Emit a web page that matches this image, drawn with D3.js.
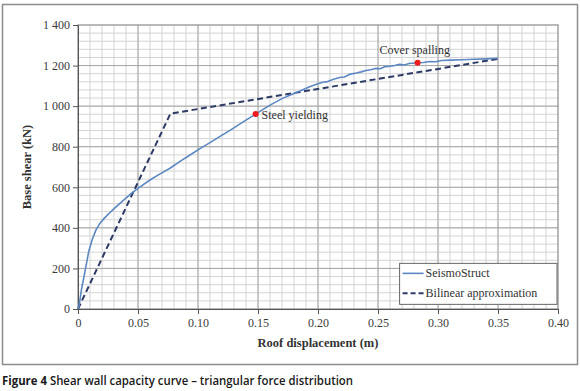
<!DOCTYPE html>
<html>
<head>
<meta charset="utf-8">
<script src="https://cdn.jsdelivr.net/npm/d3@7"></script>
<style>
  body { margin: 0; background: #fff; }
  svg { display: block; }
</style>
</head>
<body>
<div id="chart"></div>
<script>
// roof displacement (m) vs base shear (kN)
var seismoDisp = [0, 0.001, 0.003, 0.005, 0.007, 0.009, 0.012, 0.015, 0.018, 0.022, 0.026, 0.031, 0.038, 0.045, 0.052,
  0.060, 0.068, 0.077, 0.085, 0.093, 0.102, 0.110, 0.118, 0.127, 0.137, 0.148, 0.160, 0.170, 0.177, 0.185,
  0.193, 0.200, 0.204, 0.208, 0.213, 0.218, 0.222, 0.227, 0.232, 0.236, 0.240, 0.244, 0.248, 0.252, 0.256,
  0.260, 0.264, 0.268, 0.272, 0.276, 0.283, 0.288, 0.293, 0.298, 0.303, 0.310, 0.320, 0.330, 0.340, 0.350];
var seismoShear = [0, 20, 100, 160, 222, 285, 345, 390, 420, 448, 472, 500, 537, 572, 603,
  636, 665, 695, 728, 758, 792, 820, 850, 882, 920, 961, 1005, 1037, 1055, 1075,
  1096, 1110, 1118, 1121, 1133, 1141, 1144, 1158, 1163, 1169, 1176, 1179, 1186, 1184, 1195,
  1197, 1200, 1206, 1203, 1210, 1214, 1215, 1220, 1219, 1225, 1227, 1229, 1231, 1233, 1236];

var bilinearDisp = [0, 0.077, 0.350];
var bilinearShear = [0, 963, 1233];

var events = [
  {label: "Steel yielding", disp: 0.148, shear: 961},
  {label: "Cover spalling", disp: 0.283, shear: 1214}
];

var xTicks = [0, 0.05, 0.10, 0.15, 0.20, 0.25, 0.30, 0.35, 0.40];
var xTickLabels = ["0", "0.05", "0.10", "0.15", "0.20", "0.25", "0.30", "0.35", "0.40"];
var yTicks = [0, 200, 400, 600, 800, 1000, 1200, 1400];
var yTickLabels = ["0", "200", "400", "600", "800", "1 000", "1 200", "1 400"];

var seriesNames = ["SeismoStruct", "Bilinear approximation"];

// layout
var W = 580, H = 391;
var margin = {top: 25, right: 22, bottom: 82, left: 78};
var width = W - margin.left - margin.right;
var height = 284;

var serif = "'Liberation Serif', 'DejaVu Serif', serif";

var svg = d3.select("#chart").append("svg")
  .attr("width", W)
  .attr("height", H);

// outer frame
svg.append("rect")
  .attr("x", 2.5).attr("y", 4.5)
  .attr("width", 575).attr("height", 360)
  .attr("fill", "none")
  .attr("stroke", "#8c8c8c")
  .attr("stroke-width", 1.5);

var g = svg.append("g")
  .attr("transform", "translate(" + margin.left + "," + margin.top + ")");

var x = d3.scaleLinear().domain([0, 0.40]).range([0, width]);
var y = d3.scaleLinear().domain([0, 1400]).range([height, 0]);

// minor grid
g.append("g").selectAll("line")
  .data(d3.range(1, 40).map(function(i) { return i / 100; }))
  .enter().append("line")
    .attr("x1", function(d) { return x(d); }).attr("x2", function(d) { return x(d); })
    .attr("y1", 0).attr("y2", height)
    .attr("stroke", "#d4d4d4").attr("stroke-width", 1);
g.append("g").selectAll("line")
  .data(d3.range(1, 35).map(function(i) { return i * 40; }))
  .enter().append("line")
    .attr("x1", 0).attr("x2", width)
    .attr("y1", function(d) { return y(d); }).attr("y2", function(d) { return y(d); })
    .attr("stroke", "#d4d4d4").attr("stroke-width", 1);

// major grid
g.append("g").selectAll("line")
  .data(xTicks.slice(1, -1))
  .enter().append("line")
    .attr("x1", function(d) { return x(d); }).attr("x2", function(d) { return x(d); })
    .attr("y1", 0).attr("y2", height)
    .attr("stroke", "#a6a6a6").attr("stroke-width", 1);
g.append("g").selectAll("line")
  .data(yTicks.slice(1, -1))
  .enter().append("line")
    .attr("x1", 0).attr("x2", width)
    .attr("y1", function(d) { return y(d); }).attr("y2", function(d) { return y(d); })
    .attr("stroke", "#a6a6a6").attr("stroke-width", 1);

// plot border
g.append("rect")
  .attr("width", width).attr("height", height)
  .attr("fill", "none")
  .attr("stroke", "#8a8a8a").attr("stroke-width", 1.2);

// axes
var xAxis = g.append("g")
  .attr("transform", "translate(0," + height + ")")
  .call(d3.axisBottom(x).tickValues(xTicks)
    .tickFormat(function(d, i) { return xTickLabels[i]; })
    .tickSize(5).tickPadding(4));
var yAxis = g.append("g")
  .call(d3.axisLeft(y).tickValues(yTicks)
    .tickFormat(function(d, i) { return yTickLabels[i]; })
    .tickSize(5).tickPadding(3));

[xAxis, yAxis].forEach(function(a) {
  a.select(".domain").attr("stroke", "#555");
  a.selectAll(".tick line").attr("stroke", "#555");
  a.selectAll("text")
    .attr("font-family", serif)
    .attr("font-size", 12)
    .attr("fill", "#3a3a3a");
});

// data lines
var line = d3.line()
  .x(function(d) { return x(d[0]); })
  .y(function(d) { return y(d[1]); });

var seismo = seismoDisp.map(function(d, i) { return [d, seismoShear[i]]; });
var bilinear = bilinearDisp.map(function(d, i) { return [d, bilinearShear[i]]; });

g.append("path")
  .datum(bilinear)
  .attr("fill", "none")
  .attr("stroke", "#2d3a66")
  .attr("stroke-width", 2)
  .attr("stroke-dasharray", "6,3.5")
  .attr("d", line);

g.append("path")
  .datum(seismo)
  .attr("fill", "none")
  .attr("stroke", "#5b87c2")
  .attr("stroke-width", 1.6)
  .attr("stroke-linejoin", "round")
  .attr("d", line);

// event markers
g.selectAll(".event")
  .data(events)
  .enter().append("circle")
    .attr("class", "event")
    .attr("cx", function(d) { return x(d.disp); })
    .attr("cy", function(d) { return y(d.shear); })
    .attr("r", 3)
    .attr("fill", "#ee1c1c");

g.append("text")
  .attr("x", x(events[0].disp) + 6)
  .attr("y", y(events[0].shear) + 5)
  .attr("font-family", serif).attr("font-size", 12)
  .attr("fill", "#333")
  .text(events[0].label);
g.append("text")
  .attr("x", x(events[1].disp) - 38)
  .attr("y", y(events[1].shear) - 9)
  .attr("font-family", serif).attr("font-size", 12)
  .attr("fill", "#333")
  .text(events[1].label);

// axis titles
g.append("text")
  .attr("x", width / 2).attr("y", height + 38)
  .attr("text-anchor", "middle")
  .attr("font-family", serif).attr("font-size", 12.5).attr("font-weight", "bold")
  .attr("fill", "#333")
  .text("Roof displacement (m)");
g.append("text")
  .attr("transform", "translate(-47," + (height / 2) + ") rotate(-90)")
  .attr("text-anchor", "middle")
  .attr("font-family", serif).attr("font-size", 12.5).attr("font-weight", "bold")
  .attr("fill", "#333")
  .text("Base shear (kN)");

// legend
var lg = g.append("g").attr("transform", "translate(" + (x(0.268)) + "," + (y(225)) + ")");
lg.append("rect")
  .attr("width", x(0.40) - x(0.268) - 1).attr("height", 41)
  .attr("fill", "#fff")
  .attr("stroke", "#666").attr("stroke-width", 1);
lg.append("line")
  .attr("x1", 3).attr("x2", 24).attr("y1", 10).attr("y2", 10)
  .attr("stroke", "#5b87c2").attr("stroke-width", 1.6);
lg.append("line")
  .attr("x1", 3).attr("x2", 24).attr("y1", 30).attr("y2", 30)
  .attr("stroke", "#2d3a66").attr("stroke-width", 2).attr("stroke-dasharray", "5,3");
lg.selectAll(".lgtext")
  .data(seriesNames)
  .enter().append("text")
    .attr("x", 26)
    .attr("y", function(d, i) { return 14 + i * 20; })
    .attr("font-family", serif).attr("font-size", 12)
    .attr("fill", "#333")
    .text(function(d) { return d; });

// caption
var cap = svg.append("text")
  .attr("x", 2).attr("y", 385)
  .attr("font-family", "'Open Sans', 'Noto Sans', sans-serif")
  .attr("font-size", 12.5)
  .attr("textLength", 351)
  .attr("lengthAdjust", "spacingAndGlyphs")
  .attr("fill", "#1a1a1a");
cap.append("tspan").attr("font-weight", "bold").text("Figure 4 ");
cap.append("tspan").attr("font-weight", 600).text("Shear wall capacity curve \u2013 triangular force distribution");
</script>
</body>
</html>
